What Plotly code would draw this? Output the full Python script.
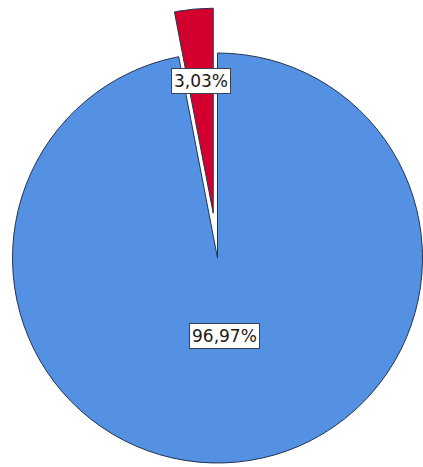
import math
import plotly.graph_objects as go

# Data (order as plotted: large slice first, small pulled slice second)
categories = ["Kategorie B", "Kategorie A"]
percentages = [96.97, 3.03]
slice_colors = ["#5591E3", "#D3002F"]
pulled_flags = [False, True]

W, H = 423, 467
R = 205.0                 # pie radius in px
CX, CY = 217.5, 258.0     # centre of the unpulled pie in px
PULL_PX = 45.0            # distance the pulled slice is moved
LINE = "#24334F"
TRANSP = "rgba(0,0,0,0)"

total = sum(percentages)
# plotly counterclockwise: first slice ends at 12 o'clock, the rest follow counterclockwise.
# angles measured counterclockwise from 12 o'clock
mids = []
start = -360.0 * percentages[0] / total
for v in percentages:
    span = 360.0 * v / total
    mids.append(start + span / 2)
    start += span


def domain_for(cx, cy, r):
    return dict(x=[(cx - r) / W, (cx + r) / W], y=[1 - (cy + r) / H, 1 - (cy - r) / H])


def offset(theta_deg, dist):
    t = math.radians(theta_deg)
    return -math.sin(t) * dist, -math.cos(t) * dist   # px dx, px dy (down positive)


n = len(percentages)
fig = go.Figure()

# main pie: unpulled slices
fig.add_trace(go.Pie(
    labels=categories, values=percentages, sort=False, direction="counterclockwise", rotation=0,
    marker=dict(colors=[TRANSP if p else c for c, p in zip(slice_colors, pulled_flags)],
                line=dict(color=[TRANSP if p else LINE for p in pulled_flags],
                          width=[0 if p else 1 for p in pulled_flags])),
    textinfo="none", hoverinfo="label+percent", showlegend=False,
    domain=domain_for(CX, CY, R),
))

# pulled slices, drawn as shifted pies
for i, (c, p) in enumerate(zip(slice_colors, pulled_flags)):
    if not p:
        continue
    dx, dy = offset(mids[i], PULL_PX)
    fig.add_trace(go.Pie(
        labels=categories, values=percentages, sort=False, direction="counterclockwise", rotation=0,
        marker=dict(colors=[c if j == i else TRANSP for j in range(n)],
                    line=dict(color=[LINE if j == i else TRANSP for j in range(n)],
                              width=[1 if j == i else 0 for j in range(n)])),
        textinfo="none", hoverinfo="label+percent", showlegend=False,
        domain=domain_for(CX + dx, CY + dy, R),
    ))

# labels
label_frac = [0.38, 0.646]
annotations = []
for i, v in enumerate(percentages):
    cx, cy = CX, CY
    if pulled_flags[i]:
        dx, dy = offset(mids[i], PULL_PX)
        cx, cy = CX + dx, CY + dy
    lx, ly = offset(mids[i], R * label_frac[i])
    annotations.append(dict(
        x=(cx + lx) / W, y=1 - (cy + ly) / H, xref="paper", yref="paper",
        text=f"{v:.2f}%".replace(".", ","), showarrow=False,
        font=dict(family="DejaVu Sans", size=17, color="#1a1a1a"),
        bgcolor="white", bordercolor="#3a4150", borderwidth=1, borderpad=2,
        xanchor="center", yanchor="middle",
    ))

fig.update_layout(
    width=W, height=H, margin=dict(l=0, r=0, t=0, b=0),
    paper_bgcolor="white", plot_bgcolor="white",
    annotations=annotations, showlegend=False,
)

fig.write_html("out.html")
